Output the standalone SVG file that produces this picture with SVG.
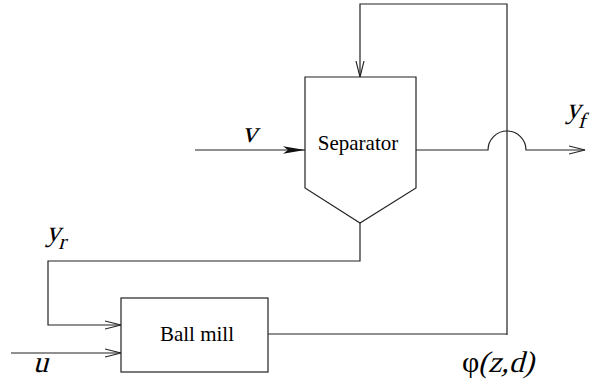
<svg xmlns="http://www.w3.org/2000/svg" width="592" height="383" viewBox="0 0 592 383">
<defs>
<style>
.ln{fill:none;stroke:#222;stroke-width:1.2}
.box{fill:#fff;stroke:#222;stroke-width:1.2}
.lbl{font-family:"Liberation Serif","Times New Roman",serif;fill:#000}
</style>
<marker id="open" markerWidth="18" markerHeight="10" refX="16" refY="5" orient="auto" markerUnits="userSpaceOnUse">
<path d="M0,1 L16,5 L0,9" fill="none" stroke="#222" stroke-width="1.1"/>
</marker>
<marker id="dart" markerWidth="24" markerHeight="10" refX="22" refY="5" orient="auto" markerUnits="userSpaceOnUse">
<path d="M0,1.2 L22,5 L0,8.8 L5,5 Z" fill="#111"/>
</marker>
</defs>
<g id="connectors">
<path class="ln" d="M507,335 L507,4 L360,4 L360,77" marker-end="url(#open)"/>
<path class="ln" d="M195,150 L305,150" marker-end="url(#dart)"/>
<path class="ln" d="M416,150 L488,150 A19,19 0 0 1 526,150 L585,150" marker-end="url(#open)"/>
<path class="ln" d="M360,223 L360,261 L48,261 L48,325 L121,325" marker-end="url(#open)"/>
<path class="ln" d="M11,353 L121,353" marker-end="url(#open)"/>
<path class="ln" d="M268,334 L507,334"/>
</g>
<g id="separator">
<path class="box" d="M305,77 L416,77 L416,188 L360,223 L305,188 Z"/>
<text class="lbl" x="358" y="150" font-size="21" text-anchor="middle">Separator</text>
</g>
<g id="ballmill">
<rect class="box" x="121" y="298" width="147" height="74"/>
<text class="lbl" x="197" y="341" font-size="21" text-anchor="middle">Ball mill</text>
</g>
<g id="labels">
<text class="lbl" transform="translate(242,142) skewX(-15)" font-size="30">v</text>
<text class="lbl" transform="translate(33,372) skewX(-15)" font-size="30">u</text>
<text class="lbl" transform="translate(46,241) skewX(-15)" font-size="29">y<tspan font-size="22" dy="8">r</tspan></text>
<text class="lbl" transform="translate(566,118) skewX(-15)" font-size="29">y<tspan font-size="22" dy="10">f</tspan></text>
<text class="lbl" x="462" y="372" font-size="30">φ</text>
<text class="lbl" transform="translate(478,372) skewX(-15)" font-size="30">(z,d)</text>
</g>
</svg>
